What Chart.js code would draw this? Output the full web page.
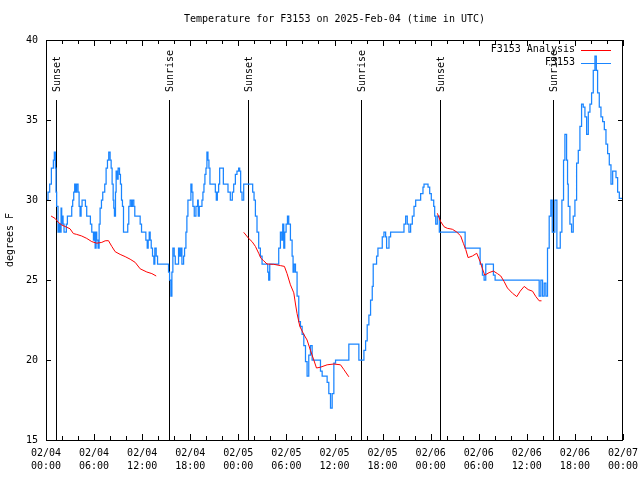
<!DOCTYPE html>
<html>
<head>
<meta charset="utf-8">
<script src="https://cdn.jsdelivr.net/npm/chart.js@4.4.1/dist/chart.umd.min.js"></script>
<style>
  body { margin: 0; background: #fff; }
  canvas { display: block; }
</style>
</head>
<body>
<canvas id="temps" width="640" height="480"></canvas>
<script>
// hours since 2025-02-04 00:00 UTC, degrees F (value holds until next point)
const observed = [
  [0,30],[0.25,30.5],[0.46,31],[0.67,32],[0.92,32.5],[1.04,33],[1.17,32],[1.25,30.5],[1.33,29.6],[1.5,28],
  [1.63,28.5],[1.75,28],[1.88,29.5],[1.96,28.5],[2.04,29],[2.13,28.5],[2.25,28],[2.54,28.5],[2.67,29],[3.21,29.6],
  [3.33,30],[3.46,30.5],[3.58,31],[3.71,30.5],[3.83,31],[4.0,30.5],[4.13,29.6],[4.25,29],[4.38,29.6],[4.5,30],
  [4.92,29.6],[5.08,29],[5.54,28.5],[5.71,28],[5.92,27.5],[6.04,28],[6.13,27],[6.25,28],[6.33,27.5],[6.5,27],
  [6.63,28.5],[6.75,29.5],[6.92,30],[7.08,30.5],[7.33,31],[7.5,32],[7.67,32.5],[7.83,33],[8.0,32.5],[8.13,32],
  [8.25,31],[8.38,30],[8.46,29.5],[8.54,29],[8.67,30.5],[8.75,31.8],[8.88,31.3],[9.0,32],[9.17,31.6],[9.29,31],
  [9.42,30],[9.54,29.6],[9.67,28],[10.2,28.5],[10.33,29.6],[10.5,30],[10.67,29.6],[10.79,30],[10.96,29.6],[11.08,29],
  [11.75,28.5],[11.92,28],[12.46,27.5],[12.63,27],[12.75,27.5],[12.88,28],[13.0,27.5],[13.13,27],[13.29,26.5],[13.46,26],
  [13.58,27],[13.75,26.5],[13.92,26],[15.29,25.5],[15.42,25],[15.58,24],[15.71,25.5],[15.83,27],[16.0,26.5],[16.13,26],
  [16.54,27],[16.67,26.5],[16.83,27],[16.96,26],[17.17,26.5],[17.29,27],[17.46,28],[17.58,29],[17.71,30],[18.08,31],
  [18.21,30.5],[18.33,29.6],[18.5,29],[18.71,29.6],[18.92,30],[19.0,29],[19.13,29.6],[19.46,30],[19.58,30.5],[19.71,31],
  [19.83,31.6],[19.96,32],[20.08,33],[20.21,32.5],[20.33,32],[20.46,31],[21.13,30.5],[21.25,30],[21.38,30.5],[21.54,31],
  [21.67,32],[22.13,31],[22.71,30.5],[23.0,30],[23.25,30.5],[23.42,31],[23.63,31.6],[23.83,31.8],[24.04,32],[24.17,31.8],
  [24.29,30.5],[24.46,30],[24.67,31],[25.79,30.5],[25.96,30],[26.13,29],[26.33,28],[26.54,27],[26.75,26.5],[26.96,26],
  [27.67,25.5],[27.79,25],[27.92,26],[29.04,27],[29.25,28],[29.42,27.5],[29.54,28.5],[29.67,27],[29.79,28],[29.96,28.5],
  [30.13,29],[30.29,28.5],[30.5,27.5],[30.71,26.5],[30.83,25.5],[30.96,26],[31.13,25.5],[31.33,24],[31.54,22.4],[31.75,22.1],
  [31.96,21.6],[32.17,20.9],[32.38,19.9],[32.58,19],[32.79,20.3],[33.0,20.9],[33.21,20],[34.25,19.3],[34.46,19],[35.08,18.6],
  [35.29,17.9],[35.5,17],[35.71,17.9],[35.92,19.8],[36.13,20],[37.79,21],[39.04,20],[39.67,20.6],[39.88,21.2],[40.08,22.2],
  [40.29,22.8],[40.5,23.75],[40.71,24.6],[40.83,26],[41.25,26.5],[41.42,27],[41.96,27.7],[42.17,28],[42.38,27.7],[42.5,27],
  [42.8,27.7],[43.0,28],[44.67,28.5],[44.88,29],[45.08,28.5],[45.29,28],[45.5,28.5],[45.71,29],[45.92,29.6],[46.13,30],
  [46.75,30.4],[47.04,30.8],[47.17,31],[47.67,30.8],[47.88,30.4],[48.08,30],[48.38,29.6],[48.5,29],[48.63,28.5],[48.83,29],
  [49.08,28],[52.3,27],[54.17,26],[54.46,25.3],[54.67,25],[54.875,26],[55.83,25.3],[56.04,25],[61.54,24],[61.75,25],
  [61.96,24],[62.17,24.8],[62.375,24],[62.58,27],[62.79,29],[63.0,30],[63.17,28],[63.5,30],[63.75,27],[64.17,28],
  [64.375,30],[64.58,32.5],[64.75,34.1],[64.96,32.5],[65.08,31],[65.17,29.6],[65.375,28.5],[65.58,28],[65.79,29],[66.0,30],
  [66.21,32.3],[66.42,33.1],[66.625,34.6],[66.83,36],[67.04,35.8],[67.25,35.2],[67.46,34.1],[67.67,35.5],[67.875,36],[68.08,36.7],
  [68.29,38.1],[68.5,39],[68.67,38.1],[68.83,36.7],[69.04,35.8],[69.25,35.2],[69.46,34.9],[69.67,34.4],[69.875,33.5],[70.08,32.9],
  [70.29,32.2],[70.5,31],[70.71,31.8],[71.125,31.4],[71.33,30.5],[71.54,30.1],[72,30.1]
];

// analysis, one run per night; null breaks the line
const analysis = [
  [0.63,29.0],[1.13,28.85],[1.54,28.6],[1.96,28.44],[2.58,28.3],[3.0,28.2],[3.42,27.9],[3.83,27.85],[4.46,27.75],[5.08,27.6],
  [5.71,27.4],[6.33,27.3],[6.96,27.35],[7.38,27.45],[7.79,27.46],[8.21,27.1],[8.63,26.77],[9.25,26.6],[9.88,26.46],[10.5,26.3],
  [11.13,26.1],[11.75,25.7],[12.58,25.5],[13.21,25.4],[13.75,25.25],
  [19,null],
  [24.67,27.98],[25.29,27.6],[25.71,27.4],[26.13,27.1],[26.54,26.67],[26.83,26.35],[27.17,26.2],[27.58,26.0],[28.42,25.98],[29.25,25.9],
  [29.75,25.85],[30.08,25.4],[30.5,24.7],[30.92,24.2],[31.13,23.5],[31.33,22.9],[31.67,22.1],[32.17,21.6],[32.58,21.25],[33.0,20.6],
  [33.42,20.0],[33.75,19.5],[34.25,19.55],[35.08,19.7],[35.92,19.75],[36.75,19.7],[37.17,19.4],[37.79,18.95],
  [43,null],
  [48.83,29.17],[49.25,28.65],[49.67,28.33],[50.08,28.23],[50.71,28.17],[51.25,28.0],[51.75,27.75],[52.08,27.29],[52.38,26.9],[52.67,26.4],
  [53.21,26.5],[53.75,26.67],[54.17,26.15],[54.46,25.7],[54.75,25.3],[55.29,25.46],[55.83,25.56],[56.33,25.4],[56.75,25.25],[57.17,24.9],
  [57.58,24.5],[58.21,24.17],[58.75,23.96],[59.17,24.3],[59.67,24.6],[60.17,24.4],[60.71,24.3],[61.13,23.96],[61.54,23.7],[61.83,23.7]
];

const sunHours = [1.25, 15.375, 25.25, 39.3, 49.15, 63.3];
const sunLabels = ['Sunset', 'Sunrise', 'Sunset', 'Sunrise', 'Sunset', 'Sunrise'];

const xTickLabels = [
  ['02/04', '00:00'], ['02/04', '06:00'], ['02/04', '12:00'], ['02/04', '18:00'],
  ['02/05', '00:00'], ['02/05', '06:00'], ['02/05', '12:00'], ['02/05', '18:00'],
  ['02/06', '00:00'], ['02/06', '06:00'], ['02/06', '12:00'], ['02/06', '18:00'],
  ['02/07', '00:00']
];

const chartTitle = 'Temperature for F3153 on 2025-Feb-04 (time in UTC)';
const seriesNames = ['F3153 Analysis', 'F3153'];
const seriesColors = ['#ff0000', '#1a85ff'];

const MONO = "'DejaVu Sans Mono', monospace";
Chart.defaults.font.family = MONO;
Chart.defaults.font.size = 10;
Chart.defaults.color = '#000';

// gnuplot look: title over the plot, inward ticks, full border, sun lines, legend inside
const gnuFrame = {
  id: 'gnuFrame',
  beforeDatasetsDraw(chart) {
    const { ctx, chartArea: a, scales: { x } } = chart;
    ctx.save();
    ctx.strokeStyle = '#000';
    ctx.fillStyle = '#000';
    ctx.lineWidth = 1;
    ctx.font = '10px ' + MONO;
    ctx.textAlign = 'center';
    ctx.textBaseline = 'middle';
    ctx.fillText(chartTitle, (a.left + a.right) / 2, a.top - 21);
    sunHours.forEach((h, i) => {
      const px = Math.round(x.getPixelForValue(h)) + 0.5;
      ctx.beginPath();
      ctx.moveTo(px, a.top + 60);
      ctx.lineTo(px, a.bottom);
      ctx.stroke();
      ctx.save();
      ctx.translate(px + 1, a.top + 52);
      ctx.rotate(-Math.PI / 2);
      ctx.textAlign = 'left';
      ctx.textBaseline = 'middle';
      ctx.fillText(sunLabels[i], 0, 0);
      ctx.restore();
    });
    ctx.restore();
  },
  afterDraw(chart) {
    const { ctx, chartArea: a, scales: { x, y } } = chart;
    ctx.save();
    ctx.strokeStyle = '#000';
    ctx.lineWidth = 1;
    ctx.strokeRect(a.left + 0.5, a.top + 0.5, a.right - a.left - 1, a.bottom - a.top);
    ctx.beginPath();
    for (let h = 0; h <= 72; h += 2) {
      const px = Math.round(x.getPixelForValue(h)) + 0.5;
      const len = h % 6 === 0 ? 6 : 4;
      ctx.moveTo(px, a.bottom); ctx.lineTo(px, a.bottom - len);
      ctx.moveTo(px, a.top); ctx.lineTo(px, a.top + len);
    }
    for (let v = 15; v <= 40; v += 5) {
      const py = Math.round(y.getPixelForValue(v)) + 0.5;
      ctx.moveTo(a.left, py); ctx.lineTo(a.left + 5, py);
      ctx.moveTo(a.right, py); ctx.lineTo(a.right - 5, py);
    }
    ctx.stroke();

    ctx.font = '10px ' + MONO;
    ctx.textAlign = 'right';
    ctx.textBaseline = 'middle';
    ctx.fillStyle = '#000';
    seriesNames.forEach((name, i) => {
      const ly = a.top + 9.5 + i * 13;
      ctx.fillText(name, a.right - 48, ly);
      ctx.strokeStyle = seriesColors[i];
      ctx.beginPath();
      ctx.moveTo(a.right - 42, Math.round(ly) + 0.5);
      ctx.lineTo(a.right - 12, Math.round(ly) + 0.5);
      ctx.stroke();
    });
    ctx.restore();
  }
};

new Chart(document.getElementById('temps'), {
  type: 'line',
  data: {
    datasets: [{
      label: seriesNames[0],
      data: analysis.map(p => ({ x: p[0], y: p[1] })),
      borderColor: seriesColors[0],
      borderWidth: 1,
      pointRadius: 0,
      spanGaps: false,
      order: 0
    }, {
      label: seriesNames[1],
      data: observed.map(p => ({ x: p[0], y: p[1] })),
      borderColor: seriesColors[1],
      borderWidth: 1.25,
      pointRadius: 0,
      stepped: true,
      order: 1
    }]
  },
  options: {
    responsive: false,
    animation: false,
    events: [],
    layout: { padding: { top: 40, left: 0, right: 17, bottom: 0 } },
    plugins: {
      legend: { display: false },
      tooltip: { enabled: false },
      title: { display: false }
    },
    scales: {
      x: {
        type: 'linear',
        min: 0,
        max: 72,
        grid: { display: false, drawTicks: false },
        border: { display: false },
        ticks: {
          stepSize: 6,
          padding: 7,
          maxRotation: 0,
          autoSkip: false,
          font: { lineHeight: 1.3 },
          callback: (v) => xTickLabels[Math.round(v / 6)]
        },
        afterFit: (s) => { s.height = 40; s.paddingLeft = 0; s.paddingRight = 0; }
      },
      y: {
        min: 15,
        max: 40,
        grid: { display: false, drawTicks: false },
        border: { display: false },
        ticks: { stepSize: 5, padding: 8 },
        title: { display: true, text: 'degrees F', padding: { top: 4, bottom: 0 } },
        afterFit: (s) => { s.width = 46; s.paddingTop = 0; s.paddingBottom = 0; }
      }
    }
  },
  plugins: [gnuFrame]
});
</script>
</body>
</html>
